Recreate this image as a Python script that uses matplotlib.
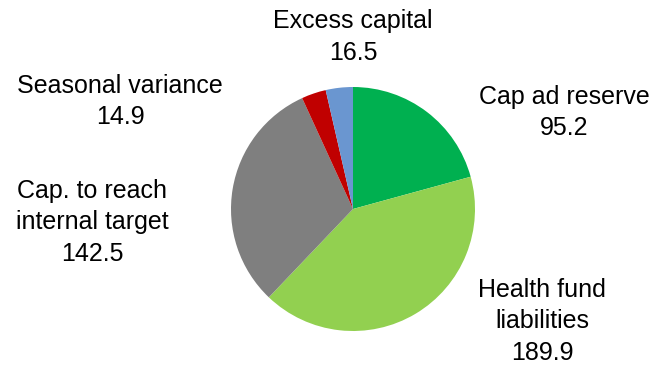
import matplotlib.pyplot as plt
import numpy as np

plt.rcParams['font.family'] = ['Liberation Sans', 'DejaVu Sans']

# slices in clockwise order from 12 o'clock
names = ['Cap ad reserve', 'Health fund\nliabilities', 'Cap. to reach\ninternal target',
         'Seasonal variance', 'Excess capital']
values = [95.2, 189.9, 142.5, 14.9, 16.5]
colors = ['#00B050', '#92D050', '#7F7F7F', '#C00000', '#6A96D0']

# label centres, in units of the pie radius
label_pos = [(1.73, 0.79), (1.55, -0.92), (-2.14, -0.11), (-1.91, 0.88), (0.0, 1.41)]

fig = plt.figure(figsize=(6.52, 3.65), dpi=100)
r_px = 122
cx, cy = 353, 209
W, H = 652, 365
ax = fig.add_axes([(cx - r_px) / W, (H - cy - r_px) / H, 2 * r_px / W, 2 * r_px / H])
ax.pie(values, colors=colors, startangle=90, counterclock=False, radius=1,
       wedgeprops=dict(linewidth=0))
ax.set_xlim(-1, 1)
ax.set_ylim(-1, 1)
ax.set_aspect('auto')

for name, v, (x, y) in zip(names, values, label_pos):
    ax.text(x, y, f'{name}\n{v:.1f}', ha='center', va='center', fontsize=18,
            linespacing=1.4, color='#000000', clip_on=False)

plt.savefig('out.png', dpi=100)
